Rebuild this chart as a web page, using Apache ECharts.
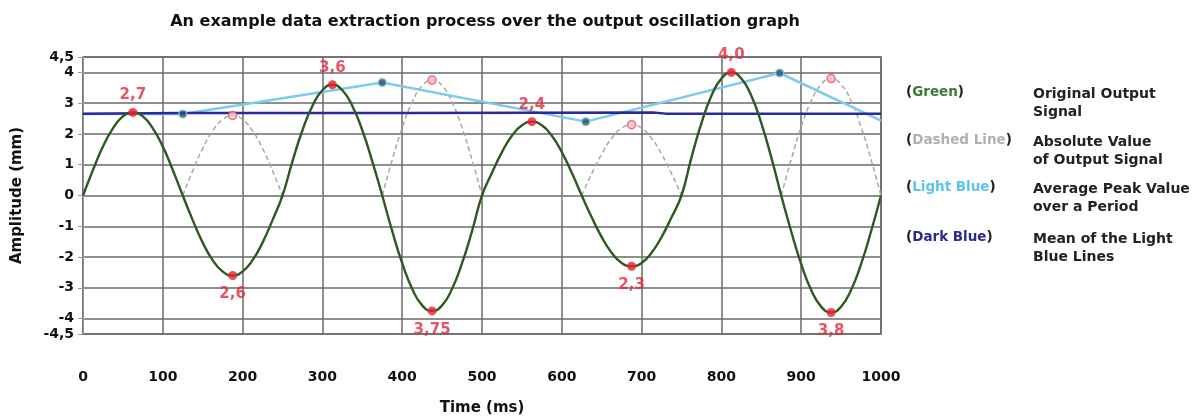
<!DOCTYPE html>
<html>
<head>
<meta charset="utf-8">
<script src="https://cdn.jsdelivr.net/npm/echarts@6/dist/echarts.min.js"></script>
<style>
  html, body { margin: 0; padding: 0; background: #fff; }
  #chart { width: 1195px; height: 418px; }
</style>
</head>
<body>
<div id="chart"></div>
<script>
// Sample times (ms) of the oscillation trace
const timeMs = [
  0, 12.5, 25, 37.5, 50, 62.5, 75, 87.5, 100, 112.5,
  125, 137.5, 150, 162.5, 175, 187.5, 200, 212.5, 225, 237.5,
  250, 262.5, 275, 287.5, 300, 312.5, 325, 337.5, 350, 362.5,
  375, 387.5, 400, 412.5, 425, 437.5, 450, 462.5, 475, 487.5,
  500, 512.5, 525, 537.5, 550, 562.5, 575, 587.5, 600, 612.5,
  625, 637.5, 650, 662.5, 675, 687.5, 700, 712.5, 725, 737.5,
  750, 762.5, 775, 787.5, 800, 812.5, 825, 837.5, 850, 862.5,
  875, 887.5, 900, 912.5, 925, 937.5, 950, 962.5, 975, 987.5,
  1000
];

// Original output signal (mm)
const signalMm = [
  0, 0.83, 1.59, 2.18, 2.57, 2.7, 2.57, 2.18, 1.59, 0.83,
  0, -0.80, -1.53, -2.10, -2.47, -2.6, -2.47, -2.10, -1.53, -0.80,
  0, 1.11, 2.12, 2.91, 3.42, 3.6, 3.42, 2.91, 2.12, 1.11,
  0, -1.16, -2.20, -3.03, -3.57, -3.75, -3.57, -3.03, -2.20, -1.16,
  0, 0.74, 1.41, 1.94, 2.28, 2.4, 2.28, 1.94, 1.41, 0.74,
  0, -0.71, -1.35, -1.86, -2.19, -2.3, -2.19, -1.86, -1.35, -0.71,
  0, 1.24, 2.35, 3.24, 3.80, 4.0, 3.80, 3.24, 2.35, 1.24,
  0, -1.17, -2.23, -3.07, -3.61, -3.8, -3.61, -3.07, -2.23, -1.17,
  0
];

// Extracted extremes of each half period
const peakTimes = [62.5, 187.5, 312.5, 437.5, 562.5, 687.5, 812.5, 937.5];
const peakValues = [2.7, -2.6, 3.6, -3.75, 2.4, -2.3, 4.0, -3.8];

// Average peak value over each period (light blue)
const avgTimes = [0, 125, 375, 630, 873, 1000];
const avgValues = [2.65, 2.65, 3.67, 2.4, 3.98, 2.43];
const avgMarkerTimes = [125, 375, 630, 873];
const avgMarkerValues = [2.65, 3.67, 2.4, 3.98];

// Mean of the light blue lines (dark blue)
const meanTimes = [0, 125, 400, 715, 730, 1000];
const meanValues = [2.66, 2.68, 2.68, 2.7, 2.66, 2.66];

// Axis ticks
const xTicks = { min: 0, max: 1000, step: 100 };
const yTicks = [-4.5, -4, -3, -2, -1, 0, 1, 2, 3, 4, 4.5];

const comma = v => String(v).replace('.', ',');
const peakText = v => {
  const a = Math.abs(v);
  return (Math.round(a * 10) === a * 10 ? a.toFixed(1) : a.toFixed(2)).replace('.', ',');
};

const zip = (xs, ys) => xs.map((x, i) => [x, ys[i]]);
const signalData = zip(timeMs, signalMm);

// |signal|, broken into one segment per half period so each lobe is smoothed on its own
const absData = [];
timeMs.forEach((t, i) => {
  const v = Math.abs(signalMm[i]);
  if (i > 0 && signalMm[i] === 0 && i < timeMs.length - 1) {
    absData.push([t, v]);
    absData.push([t, '-']);
  }
  absData.push([t, v]);
});

const absPeakData = peakTimes
  .map((t, i) => [t, peakValues[i]])
  .filter(p => p[1] < 0)
  .map(p => [p[0], Math.abs(p[1])]);
const peakData = zip(peakTimes, peakValues).map(p => ({
  value: p,
  label: p[1] < 0 ? { position: 'bottom', distance: 7 } : { position: 'top', distance: 5 }
}));

const FONT = 'DejaVu Sans';
const gridColor = '#6a6a6a';

const chart = echarts.init(document.getElementById('chart'), null, { renderer: 'canvas' });

// Legend on the right: colour name followed by description
const legendRows = [
  { y: 85, word: 'Green', color: '#3a7a38', desc: ['Original Output', 'Signal'] },
  { y: 133, word: 'Dashed Line', color: '#b0b0b0', desc: ['Absolute Value', 'of Output Signal'] },
  { y: 180, word: 'Light Blue', color: '#5cc4ec', desc: ['Average Peak Value', 'over a Period'] },
  { y: 230, word: 'Dark Blue', color: '#2e2a8c', desc: ['Mean of the Light', 'Blue Lines'] }
];
const graphics = [];
legendRows.forEach(r => {
  graphics.push({
    type: 'text', left: 906, top: r.y,
    style: {
      text: '{p|(}{w|' + r.word + '}{p|)}',
      rich: {
        p: { fontFamily: FONT, fontSize: 13.5, fontWeight: 'bold', fill: '#222' },
        w: { fontFamily: FONT, fontSize: 13.5, fontWeight: 'bold', fill: r.color }
      }
    }
  });
  graphics.push({
    type: 'text', left: 1033, top: r.y,
    style: {
      text: r.desc.join('\n'), lineHeight: 18,
      fontFamily: FONT, fontSize: 14, fontWeight: 'bold', fill: '#222'
    }
  });
});

chart.setOption({
  backgroundColor: '#ffffff',
  animation: false,
  title: {
    text: 'An example data extraction process over the output oscillation graph',
    left: 480, top: 9, textAlign: 'center',
    textStyle: { fontFamily: FONT, fontSize: 16, fontWeight: 'bold', color: '#111' }
  },
  grid: {
    left: 83, right: 314, top: 57, bottom: 84,
    outerBoundsMode: 'none', containLabel: false,
    show: true, borderColor: gridColor, borderWidth: 1.5, backgroundColor: 'transparent'
  },
  xAxis: {
    type: 'value',
    min: xTicks.min, max: xTicks.max, interval: xTicks.step,
    offset: 24,
    name: 'Time (ms)', nameLocation: 'middle', nameGap: 43,
    nameTextStyle: { fontFamily: FONT, fontSize: 15, fontWeight: 'bold', color: '#111' },
    axisLine: { show: false },
    axisTick: { show: true, length: 4, lineStyle: { color: '#aaa', width: 1 } },
    axisLabel: {
      margin: 12, fontFamily: FONT, fontSize: 14, fontWeight: 'bold', color: '#111',
      formatter: v => String(v)
    },
    splitLine: { show: true, lineStyle: { color: gridColor, width: 1.5 } }
  },
  yAxis: {
    type: 'value',
    min: -4.5, max: 4.5,
    name: 'Amplitude (mm)', nameLocation: 'middle', nameGap: 58,
    nameTextStyle: { fontFamily: FONT, fontSize: 15, fontWeight: 'bold', color: '#111' },
    axisLine: { show: true, lineStyle: { color: '#999', width: 1 } },
    axisTick: { show: true, length: 5, customValues: yTicks, lineStyle: { color: '#999' } },
    axisLabel: {
      customValues: yTicks, margin: 9,
      fontFamily: FONT, fontSize: 14, fontWeight: 'bold', color: '#111',
      formatter: v => comma(v)
    },
    splitLine: { show: true, lineStyle: { color: gridColor, width: 1.5 } }
  },
  series: [
    {
      name: 'Absolute Value', type: 'line', data: absData,
      smooth: true, connectNulls: false,
      showSymbol: false, z: 2,
      lineStyle: { color: '#a8a8a8', width: 1.5, type: [5, 3] }
    },
    {
      name: 'Average Peak Value', type: 'line', data: zip(avgTimes, avgValues),
      showSymbol: false, z: 3,
      lineStyle: { color: '#7fcbea', width: 2.5 }
    },
    {
      name: 'Mean', type: 'line', data: zip(meanTimes, meanValues),
      showSymbol: false, z: 4,
      lineStyle: { color: '#2a2a9a', width: 2.5 }
    },
    {
      name: 'Original Output', type: 'line', data: signalData, smooth: true,
      showSymbol: false, z: 5,
      lineStyle: { color: '#2e5a22', width: 2.4 }
    },
    {
      name: 'Abs peaks', type: 'scatter', data: absPeakData, z: 6,
      symbol: 'circle', symbolSize: 8,
      itemStyle: { color: '#f7c6c6', borderColor: '#e6505a', borderWidth: 1.5 }
    },
    {
      name: 'Average markers', type: 'scatter', data: zip(avgMarkerTimes, avgMarkerValues), z: 6,
      symbol: 'circle', symbolSize: 8,
      itemStyle: { color: '#2a4d6c', borderColor: '#8fcfe0', borderWidth: 1.5 }
    },
    {
      name: 'Peaks', type: 'scatter', data: peakData, z: 7,
      symbol: 'circle', symbolSize: 9,
      itemStyle: { color: '#e8202e' },
      label: {
        show: true,
        formatter: p => peakText(p.value[1]),
        fontFamily: FONT, fontSize: 15, fontWeight: 'bold', color: '#e4283c'
      }
    }
  ],
  graphic: graphics
});
</script>
</body>
</html>
